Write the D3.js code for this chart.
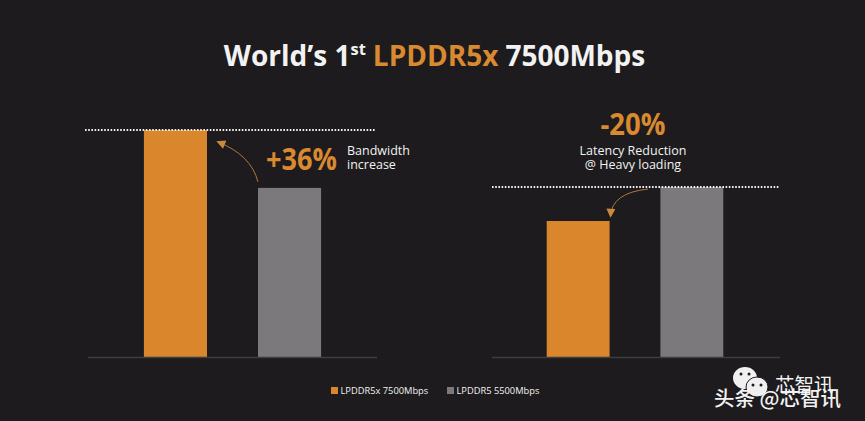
<!DOCTYPE html>
<html>
<head>
<meta charset="utf-8">
<title>LPDDR5x 7500Mbps</title>
<style>
  html, body { margin: 0; padding: 0; background: #1d1b1d; }
  svg { display: block; }
  text { font-family: "Open Sans", "Noto Sans", sans-serif; fill: #f2f2f2; }
  .accent { fill: #d9892f; font-weight: 700; }
</style>
<script src="https://d3js.org/d3.v7.min.js"></script>
</head>
<body>
<svg id="chart" width="865" height="421"></svg>
<script>
// values, longest bar = 100 in each panel
var series = ["LPDDR5x 7500Mbps", "LPDDR5 5500Mbps"];
var bandwidth = [100, 74.5];
var latency = [80, 100];
var colors = ["#d9862c", "#7b797b"];

var svg = d3.select("#chart");
var color = d3.scaleOrdinal().domain(series).range(colors);

// title, with the superscript and the orange word
var title = svg.append("text").attr("x", 434.5).attr("y", 65.5)
    .attr("text-anchor", "middle")
    .style("font-size", "28px").style("font-weight", 700);
title.append("tspan").text("World’s 1");
title.append("tspan").text("st").attr("dy", -11).style("font-size", "16.5px");
title.append("tspan").text("LPDDR5x").attr("class", "accent").attr("dy", 11).attr("dx", 7);
title.append("tspan").text("7500Mbps").attr("dx", 7);

function panel(values, xRange, yRange, axisRange, dotRange) {
    var x = d3.scaleBand().domain(series).range(xRange).paddingInner(0.447).paddingOuter(0.49);
    var y = d3.scaleLinear().domain([0, 100]).range(yRange);
    var g = svg.append("g");

    g.selectAll("rect").data(values).enter().append("rect")
        .attr("x", function(d, i) { return x(series[i]); })
        .attr("y", function(d) { return y(d); })
        .attr("width", x.bandwidth())
        .attr("height", function(d) { return y(0) - y(d); })
        .attr("fill", function(d, i) { return color(series[i]); });

    // baseline
    g.append("line")
        .attr("x1", axisRange[0]).attr("x2", axisRange[1])
        .attr("y1", y(0) + 0.5).attr("y2", y(0) + 0.5)
        .attr("stroke", "#3f3d3f").attr("stroke-width", 1.5);

    // dotted line at the top of the tallest bar
    g.append("line")
        .attr("x1", dotRange[0]).attr("x2", dotRange[1])
        .attr("y1", y(100)).attr("y2", y(100))
        .attr("stroke", "#f2f2f2").attr("stroke-width", 2)
        .attr("stroke-dasharray", "1.6 1.6");

    return { x: x, y: y };
}

var left = panel(bandwidth, [88, 377], [357, 130], [88, 377], [85, 376]);
var right = panel(latency, [491, 779], [357, 187], [492, 780], [492, 780]);

// curved arrows
svg.append("defs").append("marker").attr("id", "head")
    .attr("viewBox", "0 0 10 10").attr("refX", 8).attr("refY", 5)
    .attr("markerWidth", 11).attr("markerHeight", 9).attr("markerUnits", "userSpaceOnUse")
    .attr("orient", "auto")
    .append("path").attr("d", "M0,0L10,5L0,10Z").attr("fill", "#c98a3e");

var gx = left.x(series[1]);
svg.append("path")
    .attr("d", "M" + gx + "," + (left.y(bandwidth[1]) - 6) + "Q" + (gx - 7) + ",155 218,142")
    .attr("fill", "none").attr("stroke", "#a87a40").attr("stroke-width", 1)
    .attr("marker-end", "url(#head)");

var ox = right.x(series[0]) + right.x.bandwidth();
svg.append("path")
    .attr("d", "M648," + (right.y(100) + 2) + "Q" + (ox + 2) + ",193 " + (ox + 1) + "," + (right.y(latency[0]) - 5))
    .attr("fill", "none").attr("stroke", "#a87a40").attr("stroke-width", 1)
    .attr("marker-end", "url(#head)");

// callouts
svg.append("text").attr("class", "accent").attr("x", 266).attr("y", 170)
    .attr("textLength", 71).attr("lengthAdjust", "spacingAndGlyphs")
    .style("font-size", "31px").text("+36%");
var note1 = svg.append("text").style("font-size", "12.5px");
note1.append("tspan").attr("x", 347).attr("y", 155).text("Bandwidth");
note1.append("tspan").attr("x", 347).attr("y", 169).text("increase");

svg.append("text").attr("class", "accent").attr("x", 633).attr("y", 135)
    .attr("text-anchor", "middle").attr("textLength", 65).attr("lengthAdjust", "spacingAndGlyphs")
    .style("font-size", "31px").text("-20%");
var note2 = svg.append("text").attr("text-anchor", "middle").style("font-size", "12.5px");
note2.append("tspan").attr("x", 633).attr("y", 155).text("Latency Reduction");
note2.append("tspan").attr("x", 633).attr("y", 169).text("@ Heavy loading");

// legend
var legendX = d3.scaleOrdinal().domain(series).range([331, 447]);
var legend = svg.selectAll(".legend").data(series).enter().append("g").attr("class", "legend")
    .attr("transform", function(d) { return "translate(" + legendX(d) + ",387)"; });
legend.append("rect").attr("width", 7).attr("height", 7)
    .attr("fill", function(d) { return color(d); });
legend.append("text").attr("x", 9.5).attr("y", 7).style("font-size", "9.3px")
    .text(function(d) { return d; });

// watermark: the wechat faces, then the two overlapping names
var wm = svg.append("g");
wm.append("ellipse").attr("cx", 745).attr("cy", 378).attr("rx", 12).attr("ry", 11).attr("fill", "#f0f0f0");
wm.append("ellipse").attr("cx", 757).attr("cy", 387).attr("rx", 11).attr("ry", 10)
    .attr("fill", "#f0f0f0").attr("stroke", "#1d1b1d");
wm.selectAll(".eye").data([[741, 374], [749, 374], [753, 385], [761, 385]]).enter().append("circle")
    .attr("class", "eye").attr("cx", function(d) { return d[0]; }).attr("cy", function(d) { return d[1]; })
    .attr("r", 1.5).attr("fill", "#1d1b1d");
wm.append("text").attr("x", 775).attr("y", 392)
    .style("font-family", "'Noto Sans CJK SC'").style("font-size", "19.5px").text("芯智讯");
wm.append("text").attr("x", 714).attr("y", 406)
    .style("font-family", "'Noto Sans CJK SC'").style("font-size", "20.5px").style("font-weight", 500).text("头条 @芯智讯");
</script>
</body>
</html>
